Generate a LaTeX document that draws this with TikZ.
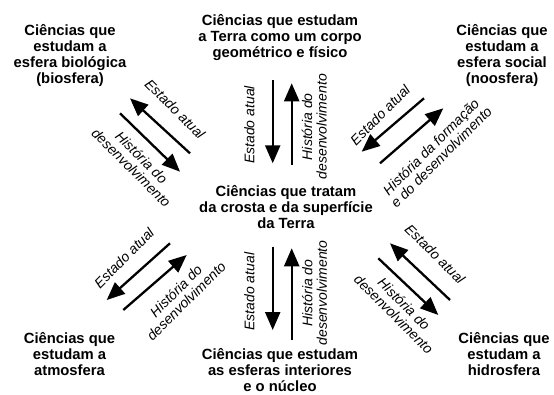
\documentclass[tikz,border=0pt]{standalone}
\usepackage{fontspec}
\setmainfont{Liberation Sans}
\usepackage{tikz}
\usetikzlibrary{arrows.meta}

\begin{document}
\begin{tikzpicture}[x=1pt,y=-1pt,->,>={Triangle[length=18pt,width=15pt]},
			line width=2.3pt,
			title node/.style={align=center,inner sep=0pt,
				font=\bfseries\fontsize{14.8}{16}\selectfont},
			label node/.style={align=center,inner sep=0pt,
				font=\itshape\fontsize{14}{14.5}\selectfont}]
			
			\useasboundingbox (0,0) rectangle (554,395);
			
			% areas of science
			\node[title node] (A) at (280,38) {Ciências que estudam\\a Terra como um corpo\\geométrico e físico};
			\node[title node] (B) at (70,55.5) {Ciências que\\estudam a\\esfera biológica\\(biosfera)};
			\node[title node] (C) at (502,55.5) {Ciências que\\estudam a\\esfera social\\(noosfera)};
			\node[title node] (D) at (286,206.7) {Ciências que tratam\\da crosta e da superfície\\da Terra};
			\node[title node] (E) at (69.5,354) {Ciências que\\estudam a\\atmosfera};
			\node[title node] (F) at (504,354) {Ciências que\\estudam a\\hidrosfera};
			\node[title node] (G) at (280,370) {Ciências que estudam\\as esferas interiores\\e o núcleo};
			
			% arrow ends
			\coordinate (A1) at (272.7,80);    \coordinate (A2) at (272.7,163.3);
			\coordinate (A3) at (291.7,165);   \coordinate (A4) at (291.7,83.3);
			\coordinate (B1) at (190,153.3);   \coordinate (B2) at (130,98.3);
			\coordinate (B3) at (120,113.3);   \coordinate (B4) at (180,171.7);
			\coordinate (C1) at (424,98.3);    \coordinate (C2) at (361.7,151.7);
			\coordinate (C3) at (380,163.3);   \coordinate (C4) at (443.3,108.3);
			\coordinate (E1) at (170,243.3);   \coordinate (E2) at (106.7,300);
			\coordinate (E3) at (123.3,310);   \coordinate (E4) at (186.7,255);
			\coordinate (F1) at (450,300);     \coordinate (F2) at (390,243.3);
			\coordinate (F3) at (378.3,258.3); \coordinate (F4) at (438.3,315);
			\coordinate (G1) at (272.7,246.7); \coordinate (G2) at (272.7,330);
			\coordinate (G3) at (291.7,340);   \coordinate (G4) at (291.7,248.3);
			
			\draw (A1) -- (A2);
			\draw (A3) -- (A4);
			\draw (B1) -- (B2);
			\draw (B3) -- (B4);
			\draw (C1) -- (C2);
			\draw (C3) -- (C4);
			\draw (E1) -- (E2);
			\draw (E3) -- (E4);
			\draw (F1) -- (F2);
			\draw (F3) -- (F4);
			\draw (G1) -- (G2);
			\draw (G3) -- (G4);
			
			% labels
			\node[label node,rotate=90] (a1) at (249.3,125) {Estado atual};
			\node[label node,rotate=90] (a2) at (314.4,126.7) {História do\\desenvolvimento};
			\node[label node,rotate=-45] (b1) at (175,109) {Estado atual};
			\node[label node,rotate=-45] (b2) at (136.5,162.6) {História do\\desenvolvimento};
			\node[label node,rotate=45] (c1) at (380,115) {Estado atual};
			\node[label node,rotate=45] (c2) at (436,152) {História da formação\\e do desenvolvimento};
			\node[label node,rotate=45] (e1) at (124,258) {Estado atual};
			\node[label node,rotate=45] (e2) at (181,296) {História do\\desenvolvimento};
			\node[label node,rotate=-45] (f1) at (435,254) {Estado atual};
			\node[label node,rotate=-45] (f2) at (399,309) {História do\\desenvolvimento};
			\node[label node,rotate=90] (g1) at (249.3,291.7) {Estado atual};
			\node[label node,rotate=90] (g2) at (314.5,293) {História do\\desenvolvimento};
		\end{tikzpicture}
\end{document}
